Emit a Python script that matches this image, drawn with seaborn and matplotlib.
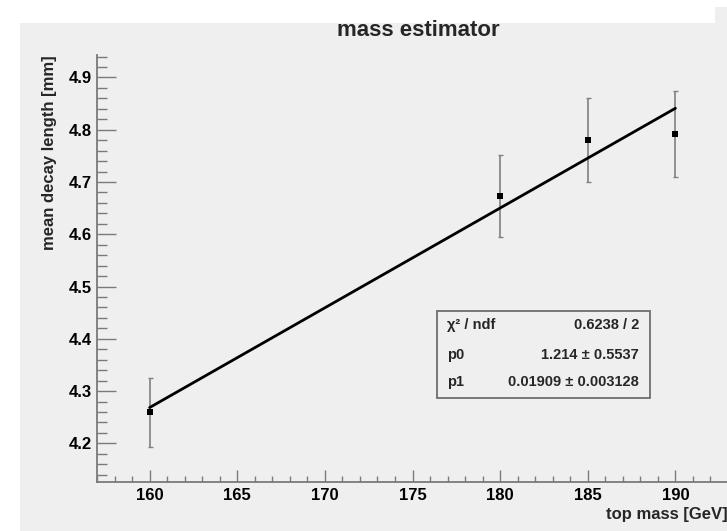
import numpy as np
import pandas as pd
import matplotlib
matplotlib.use("Agg")
import matplotlib.pyplot as plt
from matplotlib.patches import Rectangle
from matplotlib.ticker import MultipleLocator
import seaborn as sns

# Measured mean decay length for each generated top mass
mass = [160, 180, 185, 190]
decay_length = [4.259, 4.673, 4.780, 4.792]
decay_err = [0.066, 0.079, 0.080, 0.083]

# Straight-line fit results (pol1)
chi2, ndf = 0.6238, 2
p0, p0_err = 1.214, 0.5537
p1, p1_err = 0.01909, 0.003128

x_ticks = [160, 165, 170, 175, 180, 185, 190]
y_ticks = [4.2, 4.3, 4.4, 4.5, 4.6, 4.7, 4.8, 4.9]

sns.set_theme(style="ticks")
plt.rcParams["font.family"] = ["Liberation Sans", "DejaVu Sans"]
plt.rcParams["font.weight"] = "bold"

W, H = 727, 531
bg = "#efefef"
axis_grey = "#7a7a7a"

fig = plt.figure(figsize=(W / 100, H / 100), dpi=100, facecolor="white")

# canvas pad
fig.patches.append(Rectangle((20 / W, 0), 1, 1 - 23 / H, transform=fig.transFigure,
                             facecolor=bg, edgecolor="none", zorder=-10))
fig.patches.append(Rectangle((715 / W, 0), 1, 1 - 7 / H, transform=fig.transFigure,
                             facecolor=bg, edgecolor="none", zorder=-10))

ax = fig.add_axes([97 / W, 1 - 482 / H, (728 - 97) / W, (482 - 55) / H])
ax.set_facecolor(bg)

df = pd.DataFrame({"mass": mass, "decay": decay_length, "err": decay_err})

ax.errorbar(df["mass"], df["decay"], yerr=df["err"], fmt="none",
            ecolor="#808080", elinewidth=1.2, capsize=1.8, capthick=1.0, zorder=2)

fit_x = np.array([min(mass), max(mass)], dtype=float)
fit_df = pd.DataFrame({"mass": fit_x, "fit": p0 + p1 * fit_x})
sns.lineplot(data=fit_df, x="mass", y="fit", color="black", linewidth=2.0, ax=ax, zorder=3)

sns.scatterplot(data=df, x="mass", y="decay", marker="s", s=16, color="black",
                edgecolor="black", linewidth=0, ax=ax, zorder=4)

ax.set_xlim(157, 193)
ax.set_ylim(4.126, 4.943)
ax.set_xticks(x_ticks)
ax.set_xticklabels([str(t) for t in x_ticks])
ax.set_yticks(y_ticks)
ax.set_yticklabels([f"{t:.1f}" for t in y_ticks])
ax.xaxis.set_minor_locator(MultipleLocator(1))
ax.yaxis.set_minor_locator(MultipleLocator(0.02))

for side in ["top", "right"]:
    ax.spines[side].set_visible(False)
for side in ["left", "bottom"]:
    ax.spines[side].set_color(axis_grey)
    ax.spines[side].set_linewidth(1.3)

ax.tick_params(axis="both", which="both", direction="in", color=axis_grey, width=1.0,
               labelsize=12, labelcolor="black")
ax.tick_params(axis="y", which="major", length=14, pad=3.5)
ax.tick_params(axis="y", which="minor", length=7)
ax.tick_params(axis="x", which="major", length=8.5, pad=4)
ax.tick_params(axis="x", which="minor", length=4)
for lab in ax.get_xticklabels() + ax.get_yticklabels():
    lab.set_fontweight("bold")

ax.set_xlabel("top mass [GeV]", loc="right", fontsize=12, fontweight="bold", labelpad=3.5)
ax.set_ylabel("mean decay length [mm]", loc="top", fontsize=12, fontweight="bold", labelpad=8.5)

fig.text(418 / W, 1 - 31 / H, "mass estimator", ha="center", va="center",
         fontsize=16, fontweight="bold")

# fit statistics box
bx0, bx1, by0, by1 = 437, 650, 311, 398
fig.patches.append(Rectangle((bx0 / W, 1 - by1 / H), (bx1 - bx0) / W, (by1 - by0) / H,
                             transform=fig.transFigure, facecolor=bg,
                             edgecolor="#6e6e6e", linewidth=1.3, zorder=5))
rows = [
    ("χ² / ndf", f"{chi2:.4f} / {ndf}", 325),
    ("p0", f"{p0:.3f} ± {p0_err:.4f}", 355),
    ("p1", f"{p1:.5f} ± {p1_err:.6f}", 382),
]
for label, value, ypix in rows:
    fig.text(447 / W, 1 - ypix / H, label, ha="left", va="center",
             fontsize=10.5, fontweight="bold", zorder=6)
    fig.text(639 / W, 1 - ypix / H, value, ha="right", va="center",
             fontsize=10.5, fontweight="bold", zorder=6)

fig.savefig("out.png", dpi=100, facecolor="white")
